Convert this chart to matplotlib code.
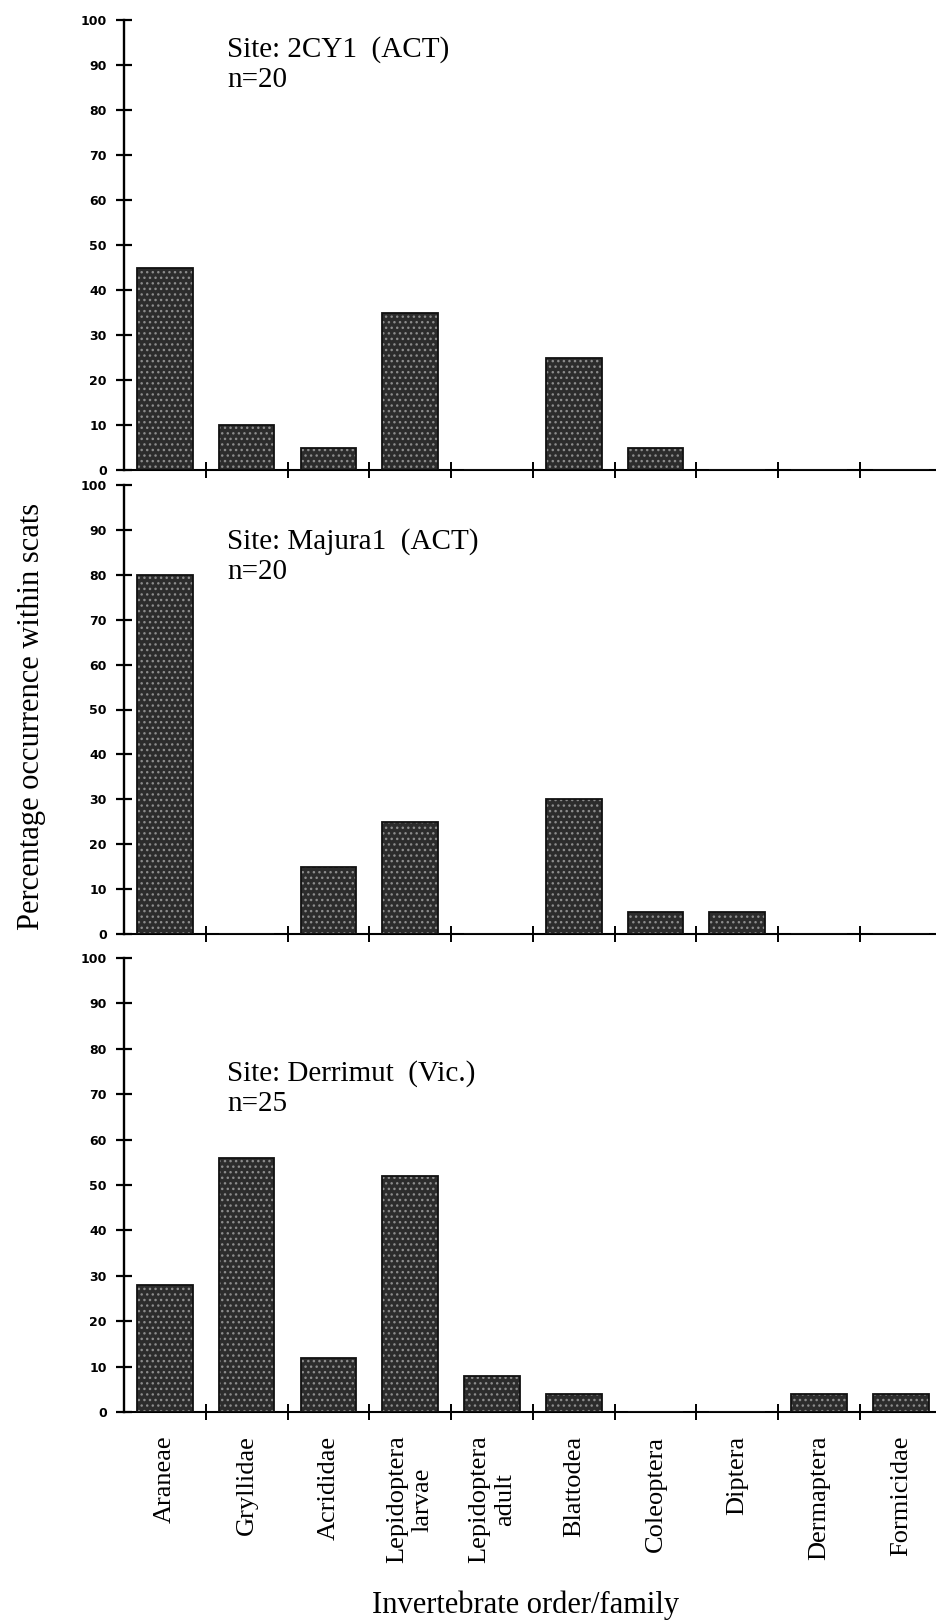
import matplotlib
matplotlib.use('Agg')
import matplotlib.pyplot as plt
import numpy as np

plt.rcParams['font.family'] = ['Liberation Serif', 'DejaVu Serif']
plt.rcParams['hatch.linewidth'] = 1.0

# Categories (invertebrate order/family) and % occurrence per site
categories = ['Araneae', 'Gryllidae', 'Acrididae', 'Lepidoptera\nlarvae',
              'Lepidoptera\nadult', 'Blattodea', 'Coleoptera', 'Diptera',
              'Dermaptera', 'Formicidae']
site_2cy1 = [45, 10, 5, 35, 0, 25, 5, 0, 0, 0]
site_majura = [80, 0, 15, 25, 0, 30, 5, 5, 0, 0]
site_derrimut = [28, 56, 12, 52, 8, 4, 0, 0, 4, 4]

site_labels = ['Site: 2CY1  (ACT)\nn=20',
               'Site: Majura1  (ACT)\nn=20',
               'Site: Derrimut  (Vic.)\nn=25']
yticks = list(range(0, 101, 10))

W, H = 936, 1622
fig = plt.figure(figsize=(W / 100, H / 100), dpi=100)

# panel extents in pixels (top of 100, bottom at 0)
panels = [(20, 470), (485, 934), (958, 1412)]
left_px, right_px = 124, 936
text_y = [0.965, 0.905, 0.775]

x = np.arange(len(categories))
data = [site_2cy1, site_majura, site_derrimut]
axs = []
for i, (top, bot) in enumerate(panels):
    ax = fig.add_axes([left_px / W, 1 - bot / H, (right_px - left_px) / W, (bot - top) / H])
    # stippled fill, then a solid outline on top
    ax.bar(x, data[i], width=0.68, color='#2c2c2c', edgecolor='#8c8c8c',
           hatch='...', linewidth=0, zorder=2)
    ax.bar(x, data[i], width=0.68, fill=False, edgecolor='#111111',
           linewidth=1.3, zorder=3)
    ax.set_xlim(-0.5, 9.43)
    ax.set_ylim(0, 100)
    for s in ['top', 'right']:
        ax.spines[s].set_visible(False)
    ax.spines['left'].set_linewidth(1.7)
    ax.spines['bottom'].set_linewidth(1.5)
    ax.set_yticks(yticks)
    ax.set_yticklabels([str(t) for t in yticks], fontfamily='DejaVu Sans',
                       fontweight='bold', fontsize=9)
    ax.tick_params(axis='y', direction='inout', length=11, width=1.6, pad=7)
    # category boundaries carry the visible x ticks
    ax.set_xticks(x[:-1] + 0.5, minor=True)
    ax.tick_params(axis='x', which='minor', direction='inout', length=11, width=1.4)
    ax.set_xticks(x)
    ax.tick_params(axis='x', which='major', length=0, pad=17)
    if i == 2:
        ax.set_xticklabels(categories, rotation=90, fontsize=19, linespacing=1.2)
    else:
        ax.set_xticklabels([])
    ax.text(0.127, text_y[i], site_labels[i], transform=ax.transAxes,
            fontsize=21, va='top', ha='left', linespacing=1.2)
    axs.append(ax)

fig.text(32 / W, 1 - 716 / H, 'Percentage occurrence within scats',
         rotation=90, fontsize=22, ha='center', va='center')
fig.text(526 / W, 1 - 1605 / H, 'Invertebrate order/family',
         fontsize=22, ha='center', va='center')

fig.savefig('out.png', dpi=100)
